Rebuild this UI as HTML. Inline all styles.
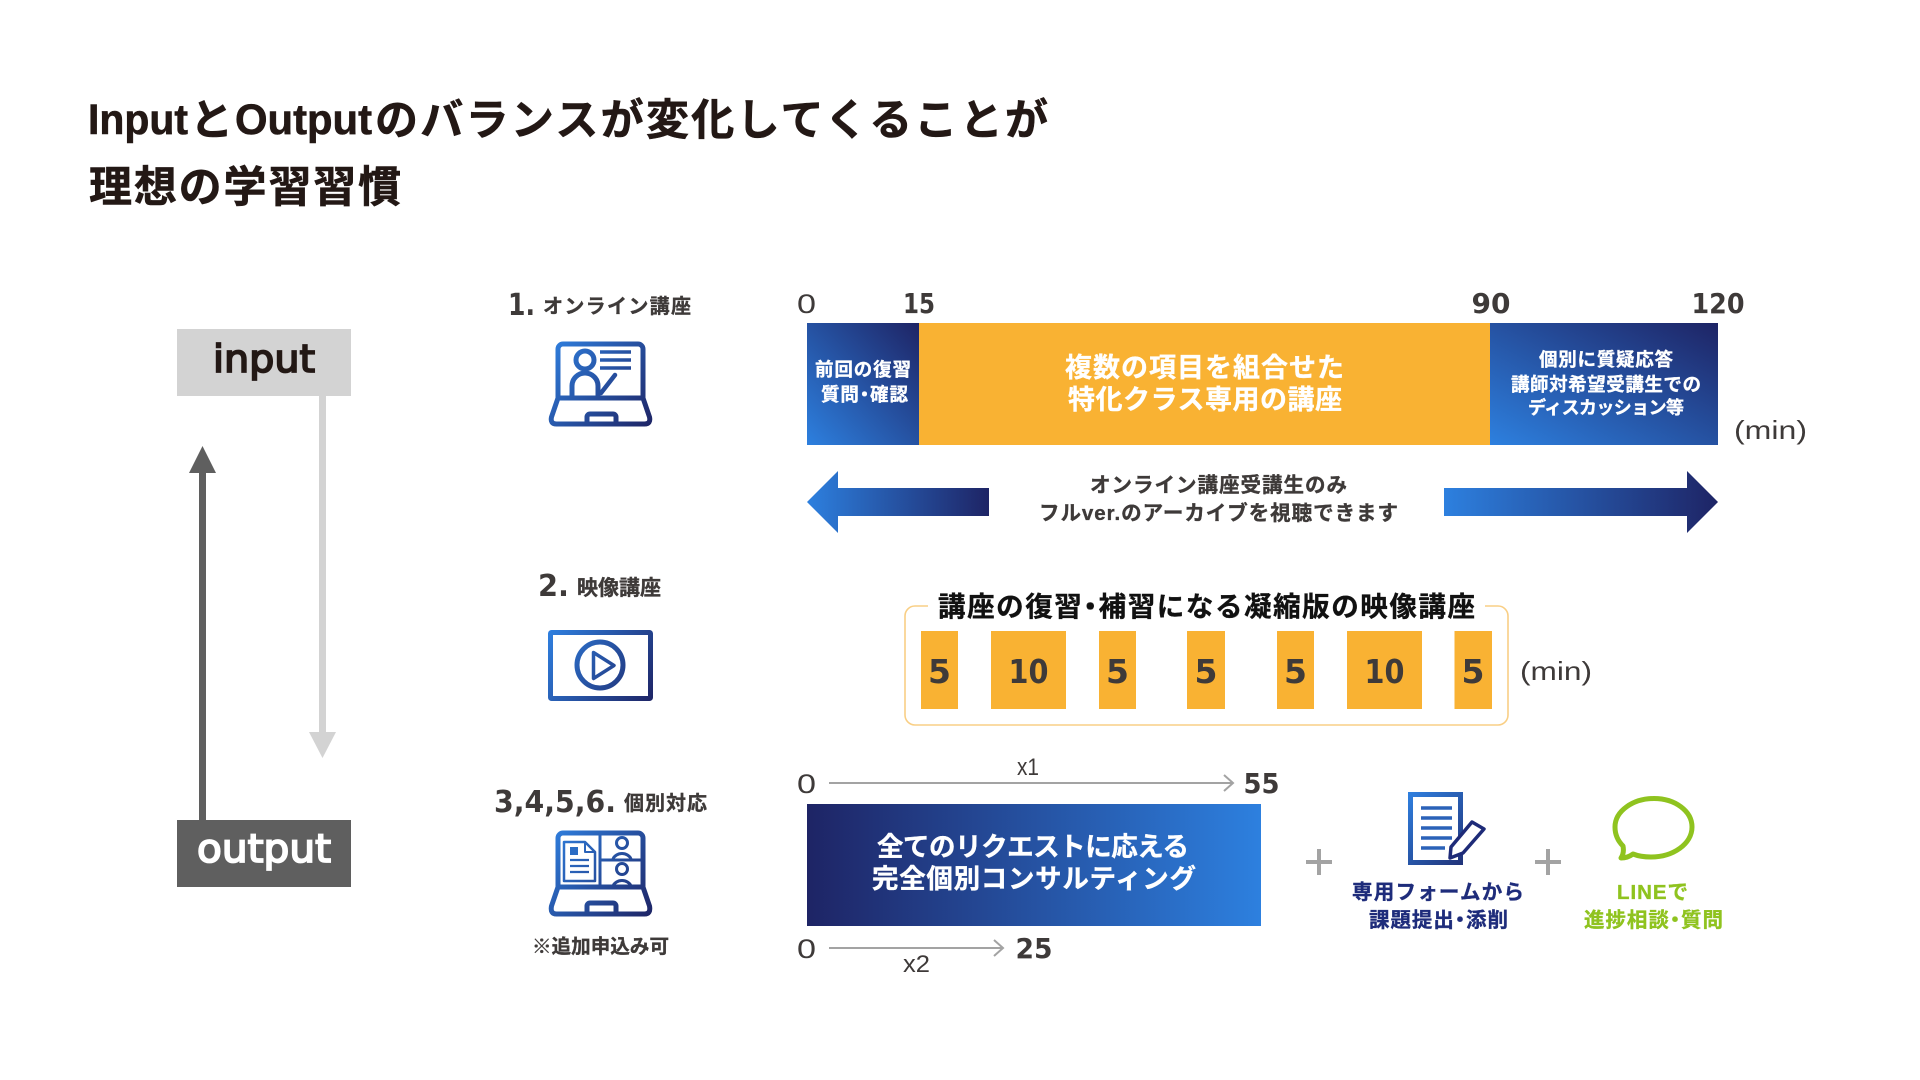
<!DOCTYPE html>
<html lang="ja"><head><meta charset="utf-8"><title>Input Output</title>
<style>
html,body{margin:0;padding:0;background:#fff;width:1920px;height:1080px;overflow:hidden}
svg{display:block}
.j{font-family:"Liberation Sans","Noto Sans CJK JP",sans-serif;font-weight:700;fill:currentColor;stroke:currentColor;stroke-width:.35px}
.p{font-feature-settings:"palt"}
.n{font-family:"DejaVu Sans",sans-serif;font-weight:700;fill:#3e3a39}
.r{font-family:"Liberation Sans",sans-serif;font-weight:400;fill:#3e3a39}
.m{font-family:"DejaVu Sans",sans-serif;font-weight:400}
.w{color:#fff}.d{color:#3e3a39}
</style></head><body>
<svg width="1920" height="1080" viewBox="0 0 1920 1080" xmlns="http://www.w3.org/2000/svg">
<defs>
<linearGradient id="bl" x1="0" y1="1" x2="1" y2="0"><stop offset="0" stop-color="#2d80df"/><stop offset="1" stop-color="#1e2465"/></linearGradient>
<linearGradient id="lr" x1="0" y1="0" x2="1" y2="0"><stop offset="0" stop-color="#2d80df"/><stop offset="1" stop-color="#1e2465"/></linearGradient>
<linearGradient id="rl" x1="0" y1="0" x2="1" y2="0"><stop offset="0" stop-color="#1e2465"/><stop offset="1" stop-color="#2d80df"/></linearGradient>
<linearGradient id="i1" gradientUnits="userSpaceOnUse" x1="549" y1="341" x2="652" y2="426"><stop offset="0" stop-color="#2f80e0"/><stop offset="1" stop-color="#1e2465"/></linearGradient>
<linearGradient id="i2" gradientUnits="userSpaceOnUse" x1="548" y1="630" x2="653" y2="701"><stop offset="0" stop-color="#2f80e0"/><stop offset="1" stop-color="#1e2465"/></linearGradient>
<linearGradient id="i3" gradientUnits="userSpaceOnUse" x1="549" y1="830" x2="652" y2="916"><stop offset="0" stop-color="#2f80e0"/><stop offset="1" stop-color="#1e2465"/></linearGradient>
<linearGradient id="i4" gradientUnits="userSpaceOnUse" x1="1408" y1="792" x2="1486" y2="865"><stop offset="0" stop-color="#2f80e0"/><stop offset="1" stop-color="#1e2465"/></linearGradient>
</defs>

<!-- title -->
<g class="j" style="color:#231815;stroke-width:.6px" font-size="43">
<text x="88" y="134" textLength="100" lengthAdjust="spacingAndGlyphs">Input</text>
<text x="190" y="135">と</text>
<text x="235" y="134" textLength="137" lengthAdjust="spacingAndGlyphs">Output</text>
<text x="375" y="135" textLength="673">のバランスが変化してくることが</text>
<text x="89" y="202" textLength="312">理想の学習習慣</text>
</g>

<!-- left column -->
<rect x="177" y="329" width="174" height="67" fill="#d3d3d3"/>
<rect x="177" y="820" width="174" height="67" fill="#5f5f5f"/>
<text class="m" style="fill:#231815;stroke:#231815;stroke-width:1.8px" x="213" y="372" font-size="38" textLength="102" lengthAdjust="spacingAndGlyphs">input</text>
<text class="m" style="fill:#fff;stroke:#fff;stroke-width:1.8px" x="197" y="862" font-size="39" textLength="134" lengthAdjust="spacingAndGlyphs">output</text>
<rect x="199" y="470" width="7" height="350" fill="#5f5f5f"/>
<polygon points="202.500,446 216,473 189,473" fill="#5f5f5f"/>
<rect x="319" y="396" width="7" height="340" fill="#d3d3d3"/>
<polygon points="322.500,758 336,732 309,732" fill="#d3d3d3"/>

<!-- section heads -->
<text class="n" x="508" y="315" font-size="30" textLength="27" lengthAdjust="spacingAndGlyphs">1.</text>
<text class="j d" x="543" y="313" font-size="20" textLength="148">オンライン講座</text>
<text class="n" x="538" y="596" font-size="30" textLength="31" lengthAdjust="spacingAndGlyphs">2.</text>
<text class="j d" x="577" y="595" font-size="21" textLength="84">映像講座</text>
<text class="n" x="494" y="812" font-size="30" textLength="122" lengthAdjust="spacingAndGlyphs">3,4,5,6.</text>
<text class="j d" x="624" y="810" font-size="20" textLength="83">個別対応</text>
<text class="j d" x="532" y="953" font-size="19.500" textLength="137">※追加申込み可</text>

<!-- icon 1 -->
<g fill="none" stroke="url(#i1)" stroke-width="5" stroke-linejoin="round" stroke-linecap="round">
<path d="M558 398V349a5 5 0 0 1 5-5H638a5 5 0 0 1 5 5V398Z"/>
<path d="M558 398H643L649.500 417Q651 424 644.500 424H556.500Q550 424 551.500 417Z"/>
<path d="M587 423V417a3 3 0 0 1 3-3H613a3 3 0 0 1 3 3V423"/>
<circle cx="585" cy="360" r="9"/>
<path d="M572 397V386a13 13 0 0 1 26 0V397"/>
<path d="M601 393L615 375" stroke-width="4.500"/>
<path d="M600 352H631M600 360H631M600 368H631" stroke-width="3.500" stroke-linecap="butt"/>
</g>

<!-- icon 2 -->
<g fill="none" stroke="url(#i2)" stroke-linejoin="round">
<rect x="550.500" y="632.500" width="100" height="66" stroke-width="5" rx="1"/>
<circle cx="600" cy="665" r="23" stroke-width="5"/>
<path d="M593.500 652.500L614 665.500L593.500 678.500Z" stroke-width="3.500"/>
</g>

<!-- icon 3 -->
<g fill="none" stroke="url(#i3)" stroke-width="5" stroke-linejoin="round">
<path d="M558 887V838a5 5 0 0 1 5-5H638a5 5 0 0 1 5 5V887Z"/>
<path d="M558 887H643L649.500 906Q651 914 644.500 914H556.500Q550 914 551.500 906Z"/>
<path d="M587 913V906a3 3 0 0 1 3-3H613a3 3 0 0 1 3 3V913"/>
<path d="M600 833V887M600 860H643" stroke-width="3"/>
<path d="M564 842H585L595 852V881H564Z" stroke-width="2.500"/>
<path d="M585 842V852H595" stroke-width="2"/>
<path d="M570 860H589M570 866H589M570 872H589" stroke-width="2.200"/>
<circle cx="622" cy="843" r="5.500" stroke-width="3"/>
<path d="M613 859a9.500 8 0 0 1 18 0" stroke-width="3"/>
<circle cx="622" cy="869" r="5.500" stroke-width="3"/>
<path d="M613 886a9.500 8 0 0 1 18 0" stroke-width="3"/>
</g>
<rect x="570" y="847" width="8" height="8" fill="#2b6cc4"/>

<!-- timeline row 1 -->
<text class="r" x="797" y="313" font-size="27" textLength="19" lengthAdjust="spacingAndGlyphs">0</text>
<g class="n" font-size="28" text-anchor="middle">
<text x="919" y="313" textLength="32" lengthAdjust="spacingAndGlyphs">15</text>
<text x="1491" y="313">90</text>
<text x="1718" y="313" textLength="53" lengthAdjust="spacingAndGlyphs">120</text>
</g>
<rect x="807" y="323" width="112" height="122" fill="url(#bl)"/>
<rect x="919" y="323" width="571" height="122" fill="#f9b233"/>
<rect x="1490" y="323" width="228" height="122" fill="url(#bl)"/>
<g class="j w">
<text x="815" y="376" font-size="18.500" textLength="96">前回の復習</text>
<text x="821" y="401" font-size="18.500" textLength="87">質問<tspan class="p">・</tspan>確認</text>
<text x="1065" y="377" font-size="27" textLength="279">複数の項目を組合せた</text>
<text x="1068" y="409" font-size="27" textLength="274">特化クラス専用の講座</text>
<text x="1539" y="366" font-size="18.500" textLength="134">個別に質疑応答</text>
<text x="1511" y="391" font-size="18.500" textLength="190">講師対希望受講生での</text>
<text x="1528" y="414" font-size="18" textLength="156">ディスカッション等</text>
</g>
<text class="r" x="1734" y="439" font-size="26" textLength="73" lengthAdjust="spacingAndGlyphs">(min)</text>

<polygon points="807,502 838,471 838,488 989,488 989,516 838,516 838,533" fill="url(#lr)"/>
<polygon points="1444,488 1687,488 1687,471 1718,502 1687,533 1687,516 1444,516" fill="url(#lr)"/>
<g class="j d">
<text x="1090" y="492" font-size="20.500" textLength="257">オンライン講座受講生のみ</text>
<text x="1039" y="520" font-size="20.500" textLength="359">フルver.のアーカイブを視聴できます</text>
</g>

<!-- video row -->
<path d="M928 606H915a10 10 0 0 0-10 10V715a10 10 0 0 0 10 10H1498a10 10 0 0 0 10-10V616a10 10 0 0 0-10-10H1485" fill="none" stroke="#f9cf85" stroke-width="1.600"/>
<text class="j" style="color:#111" x="938" y="616" font-size="27.500" textLength="537">講座の復習<tspan class="p">・</tspan>補習になる凝縮版の映像講座</text>
<g fill="#f9b233">
<rect x="921" y="631" width="37" height="78"/>
<rect x="991" y="631" width="75" height="78"/>
<rect x="1099" y="631" width="37" height="78"/>
<rect x="1187" y="631" width="38" height="78"/>
<rect x="1277" y="631" width="37" height="78"/>
<rect x="1347" y="631" width="75" height="78"/>
<rect x="1454.500" y="631" width="37.500" height="78"/>
</g>
<g class="n" font-size="33" text-anchor="middle">
<text x="939.500" y="683">5</text>
<text x="1028.500" y="683" textLength="40" lengthAdjust="spacingAndGlyphs">10</text>
<text x="1117.500" y="683">5</text>
<text x="1206" y="683">5</text>
<text x="1295.500" y="683">5</text>
<text x="1384.500" y="683" textLength="40" lengthAdjust="spacingAndGlyphs">10</text>
<text x="1473" y="683">5</text>
</g>
<text class="r" x="1520" y="680" font-size="26" textLength="72" lengthAdjust="spacingAndGlyphs">(min)</text>

<!-- consulting row -->
<text class="r" x="797" y="793" font-size="27" textLength="19" lengthAdjust="spacingAndGlyphs">0</text>
<path d="M829 783H1233M1224 775L1233 783L1224 791" fill="none" stroke="#a3a3a3" stroke-width="2"/>
<text class="n" x="1261.500" y="793" font-size="28" text-anchor="middle" textLength="36" lengthAdjust="spacingAndGlyphs">55</text>
<text class="r" x="1017" y="775" font-size="24" textLength="22" lengthAdjust="spacingAndGlyphs">x1</text>
<rect x="807" y="804" width="454" height="122" fill="url(#rl)"/>
<g class="j w">
<text x="877" y="856" font-size="26.500" textLength="312">全てのリクエストに応える</text>
<text x="872" y="888" font-size="26.500" textLength="324">完全個別コンサルティング</text>
</g>
<text class="r" x="797" y="958" font-size="27" textLength="19" lengthAdjust="spacingAndGlyphs">0</text>
<path d="M829 948H1003M994 940L1003 948L994 956" fill="none" stroke="#a3a3a3" stroke-width="2"/>
<text class="n" x="1034" y="958" font-size="28" text-anchor="middle" textLength="37" lengthAdjust="spacingAndGlyphs">25</text>
<text class="r" x="903" y="972" font-size="24" textLength="27" lengthAdjust="spacingAndGlyphs">x2</text>

<path d="M1306 862H1332M1319 849V875M1535 862H1561M1548 849V875" stroke="#a3a3a3" stroke-width="4" fill="none"/>

<!-- doc icon -->
<rect x="1410.500" y="794.500" width="50" height="68" fill="none" stroke="url(#i4)" stroke-width="5"/>
<path d="M1421 808H1452M1421 818H1452M1421 828H1452M1421 838H1452M1421 848H1445" stroke="#2b62b8" stroke-width="3.500" fill="none"/>
<path d="M1450 858L1451 847L1472 822L1484 829L1463 853Z" fill="#fff" stroke="#1e2b78" stroke-width="3.500" stroke-linejoin="round"/>
<text class="j" style="color:#1e2c7b" x="1352" y="899" font-size="20.500" textLength="172">専用フォームから</text>
<text class="j" style="color:#1e2c7b" x="1369" y="927" font-size="20.500" textLength="139">課題提出<tspan class="p">・</tspan>添削</text>

<!-- LINE icon -->
<path d="M1654 798.500C1675 798.500 1692 811 1692 827C1692 844 1673 857 1651 857C1644 857 1638 856 1633 854C1629 857 1625 858 1621 858C1623 855 1624 851 1623 846C1618 841 1615 834 1615 827C1615 811 1633 798.500 1654 798.500Z" fill="none" stroke="#8fc31f" stroke-width="5" stroke-linejoin="round"/>
<text class="j" style="color:#8fc31f" x="1617" y="899" font-size="20.500" textLength="71">LINEで</text>
<text class="j" style="color:#8fc31f" x="1584" y="927" font-size="20.500" textLength="139">進捗相談<tspan class="p">・</tspan>質問</text>
</svg>
</body></html>
